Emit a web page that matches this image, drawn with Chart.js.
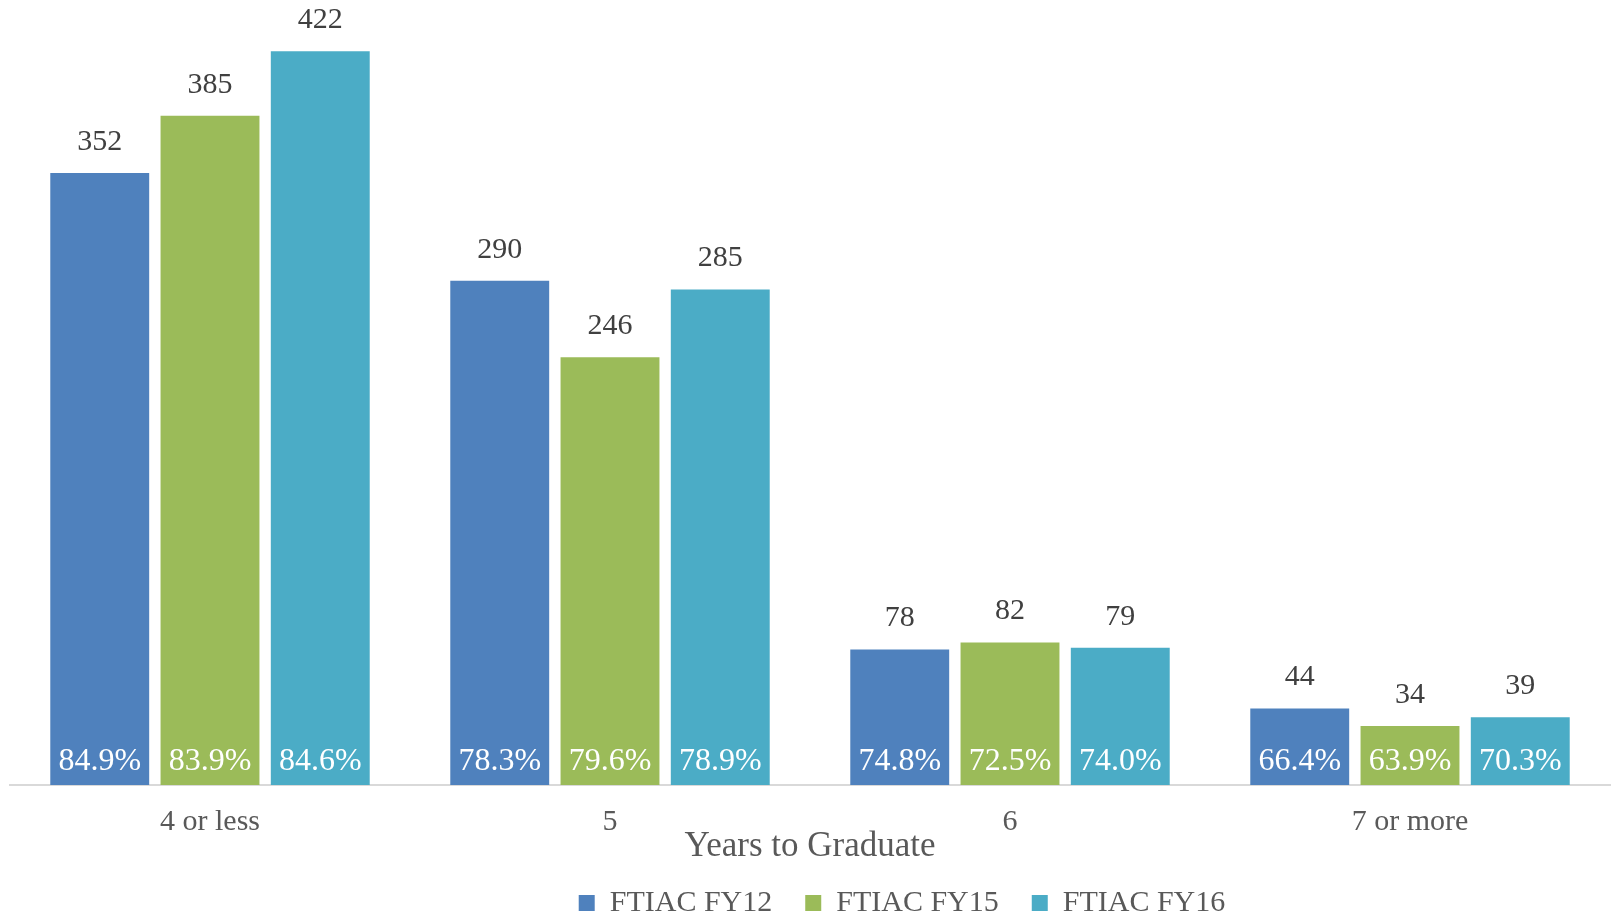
<!DOCTYPE html>
<html>
<head>
<meta charset="utf-8">
<script src="https://cdn.jsdelivr.net/npm/chart.js@4"></script>
<style>
  html, body { margin: 0; padding: 0; background: #ffffff; overflow: hidden; }
  #campoChart { width: 1616px; height: 919px; }
</style>
</head>
<body>
<div id="campoChart"><canvas id="chartAnos" width="1616" height="919"></canvas></div>
<script>
const categorias = ['4 or less', '5', '6', '7 or more'];
const nomesSeries = ['FTIAC FY12', 'FTIAC FY15', 'FTIAC FY16'];
const valoresFY12 = [352, 290, 78, 44];
const valoresFY15 = [385, 246, 82, 34];
const valoresFY16 = [422, 285, 79, 39];
const percFY12 = ['84.9%', '78.3%', '74.8%', '66.4%'];
const percFY15 = ['83.9%', '79.6%', '72.5%', '63.9%'];
const percFY16 = ['84.6%', '78.9%', '74.0%', '70.3%'];
const cores = ['#4F81BD', '#9BBB59', '#4BACC6'];

const fonte = "'Liberation Serif', 'DejaVu Serif', serif";

const data = {
    labels: categorias,
    datasets: [{
        label: nomesSeries[0],
        backgroundColor: cores[0],
        data: valoresFY12,
        percentuais: percFY12
    }, {
        label: nomesSeries[1],
        backgroundColor: cores[1],
        data: valoresFY15,
        percentuais: percFY15
    }, {
        label: nomesSeries[2],
        backgroundColor: cores[2],
        data: valoresFY16,
        percentuais: percFY16
    }]
};

// labels em cima (valor) e dentro da barra (percentual)
const pluginRotulos = {
    id: 'rotulos',
    afterDatasetsDraw(chart) {
        const ctx = chart.ctx;
        ctx.save();
        ctx.textAlign = 'center';
        ctx.textBaseline = 'middle';
        chart.data.datasets.forEach((ds, i) => {
            const meta = chart.getDatasetMeta(i);
            meta.data.forEach((bar, j) => {
                ctx.fillStyle = '#404040';
                ctx.font = '30px ' + fonte;
                ctx.fillText(String(ds.data[j]), bar.x, bar.y - 31);
                ctx.fillStyle = '#ffffff';
                ctx.font = '32px ' + fonte;
                ctx.fillText(ds.percentuais[j], bar.x, bar.base - 23);
            });
        });
        ctx.restore();
    }
};

// legenda um pouco deslocada para a direita como no original
const pluginLegenda = {
    id: 'legendaDesloc',
    afterLayout(chart) {
        chart.legend.left += 92;
        chart.legend.right += 92;
    }
};

const config = {
    type: 'bar',
    data: data,
    options: {
        responsive: false,
        animation: false,
        layout: {
            padding: { top: 20, left: 10, right: 6, bottom: -9 }
        },
        datasets: {
            bar: {
                categoryPercentage: 0.827,
                barPercentage: 0.897
            }
        },
        scales: {
            x: {
                grid: { display: false, drawTicks: false },
                border: { display: true, color: '#d9d9d9', width: 2 },
                ticks: {
                    color: '#595959',
                    padding: 19,
                    font: { family: fonte, size: 30 }
                },
                title: {
                    display: true,
                    text: 'Years to Graduate',
                    color: '#595959',
                    font: { family: fonte, size: 35 },
                    padding: { top: -33, bottom: -13 }
                }
            },
            y: {
                display: false,
                min: 0,
                max: 440
            }
        },
        plugins: {
            tooltip: { enabled: false },
            legend: {
                position: 'bottom',
                labels: {
                    color: '#595959',
                    boxWidth: 16,
                    boxHeight: 16,
                    padding: 33,
                    font: { family: fonte, size: 30 }
                }
            }
        }
    },
    plugins: [pluginRotulos, pluginLegenda]
};

window.chartAnos = new Chart(
    document.getElementById('chartAnos'),
    config
);
</script>
</body>
</html>
